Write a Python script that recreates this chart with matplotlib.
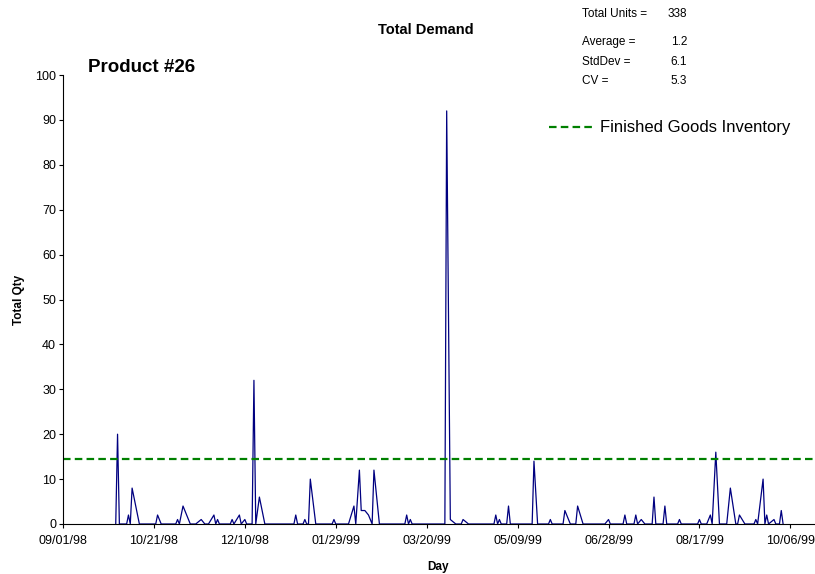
import numpy as np
import pandas as pd
import matplotlib
matplotlib.use('Agg')
import matplotlib.pyplot as plt
import matplotlib.dates as mdates

plt.rcParams['font.family'] = ['Liberation Sans', 'DejaVu Sans']

# demand vertices (date, qty)
dates = [
    '1998-09-30', '1998-10-01', '1998-10-02', '1998-10-06', '1998-10-07', '1998-10-08',
    '1998-10-09', '1998-10-13', '1998-10-22', '1998-10-23', '1998-10-25', '1998-11-02',
    '1998-11-03', '1998-11-04', '1998-11-06', '1998-11-10', '1998-11-13', '1998-11-16',
    '1998-11-18', '1998-11-20', '1998-11-23', '1998-11-24', '1998-11-25', '1998-11-26',
    '1998-12-02', '1998-12-03', '1998-12-04', '1998-12-07', '1998-12-08', '1998-12-10',
    '1998-12-11', '1998-12-14', '1998-12-15', '1998-12-16', '1998-12-18', '1998-12-21',
    '1999-01-06', '1999-01-07', '1999-01-08', '1999-01-11', '1999-01-12', '1999-01-13',
    '1999-01-14', '1999-01-15', '1999-01-18', '1999-01-27', '1999-01-28', '1999-01-29',
    '1999-02-05', '1999-02-08', '1999-02-09', '1999-02-11', '1999-02-12', '1999-02-14',
    '1999-02-16', '1999-02-18', '1999-02-19', '1999-02-22', '1999-03-08', '1999-03-09',
    '1999-03-10', '1999-03-11', '1999-03-12', '1999-03-30', '1999-03-31', '1999-04-02',
    '1999-04-05', '1999-04-08', '1999-04-09', '1999-04-12', '1999-04-26', '1999-04-27',
    '1999-04-28', '1999-04-29', '1999-04-30', '1999-05-03', '1999-05-04', '1999-05-05',
    '1999-05-17', '1999-05-18', '1999-05-20', '1999-05-26', '1999-05-27', '1999-05-28',
    '1999-06-03', '1999-06-04', '1999-06-07', '1999-06-10', '1999-06-11', '1999-06-14',
    '1999-06-26', '1999-06-28', '1999-06-29', '1999-07-06', '1999-07-07', '1999-07-08',
    '1999-07-12', '1999-07-13', '1999-07-14', '1999-07-16', '1999-07-18', '1999-07-22',
    '1999-07-23', '1999-07-24', '1999-07-28', '1999-07-29', '1999-07-30', '1999-08-05',
    '1999-08-06', '1999-08-07', '1999-08-16', '1999-08-17', '1999-08-18', '1999-08-21',
    '1999-08-23', '1999-08-24', '1999-08-26', '1999-08-28', '1999-09-01', '1999-09-03',
    '1999-09-06', '1999-09-07', '1999-09-08', '1999-09-11', '1999-09-16', '1999-09-17',
    '1999-09-18', '1999-09-21', '1999-09-22', '1999-09-23', '1999-09-24', '1999-09-27',
    '1999-09-28', '1999-09-30', '1999-10-01', '1999-10-02',
]
qty = [
    0, 20, 0, 0, 2, 0,
    8, 0, 0, 2, 0, 0,
    1, 0, 4, 0, 0, 1,
    0, 0, 2, 0, 1, 0,
    0, 1, 0, 2, 0, 1,
    0, 0, 32, 0, 6, 0,
    0, 2, 0, 0, 1, 0,
    0, 10, 0, 0, 1, 0,
    0, 4, 0, 12, 3, 3,
    2, 0, 12, 0, 0, 2,
    0, 1, 0, 0, 92, 1,
    0, 0, 1, 0, 0, 2,
    0, 1, 0, 0, 4, 0,
    0, 14, 0, 0, 1, 0,
    0, 3, 0, 0, 4, 0,
    0, 1, 0, 0, 2, 0,
    0, 2, 0, 1, 0, 0,
    6, 0, 0, 4, 0, 0,
    1, 0, 0, 1, 0, 0,
    2, 0, 16, 0, 0, 8,
    0, 0, 2, 0, 0, 1,
    0, 10, 0, 2, 0, 1,
    0, 0, 3, 0,
]
fgi_level = 14.5
tick_dates = pd.date_range('1998-09-01', periods=9, freq='50D')
x_end = '1999-10-19'

stat_names = ['Total Units =', 'Average =', 'StdDev =', 'CV =']
stat_values = ['338', '1.2', '6.1', '5.3']

fig = plt.figure(figsize=(8.15, 5.74), dpi=100)
ax = fig.add_axes([63 / 815, 1 - 524 / 574, (814 - 63) / 815, (524 - 75) / 574])

ax.plot(pd.to_datetime(dates), qty, color='#000080', lw=0.9)
ax.axhline(fgi_level, color='#008000', lw=1.6, dashes=(3.4, 1.9),
           label='Finished Goods Inventory')

ax.set_ylim(0, 100)
ax.set_yticks(np.arange(0, 101, 10))
ax.set_xlim(tick_dates[0], pd.Timestamp(x_end))
ax.set_xticks(tick_dates)
ax.xaxis.set_major_formatter(mdates.DateFormatter('%m/%d/%y'))

for s in ['top', 'right']:
    ax.spines[s].set_visible(False)
for s in ['left', 'bottom']:
    ax.spines[s].set_linewidth(0.8)
ax.tick_params(axis='both', direction='out', length=3, width=0.8, labelsize=9)
ax.tick_params(axis='x', pad=5)
ax.tick_params(axis='y', pad=2)

ax.set_xlabel('Day', fontsize=8.5, fontweight='bold', labelpad=10)
ax.set_ylabel('Total Qty', fontsize=8.5, fontweight='bold', labelpad=7)

fig.text(426 / 815, 1 - 30 / 574, 'Total Demand', fontsize=10.5, fontweight='bold',
         ha='center', va='center')
fig.text(88 / 815, 1 - 68 / 574, 'Product #26', fontsize=13.5, fontweight='bold',
         ha='left', va='center')

stat_y = [14, 42, 62, 81]
for name, val, yy in zip(stat_names, stat_values, stat_y):
    fig.text(582 / 815, 1 - yy / 574, name, fontsize=8.5, ha='left', va='center')
    fig.text(687 / 815, 1 - yy / 574, val, fontsize=8.5, ha='right', va='center')

ax.legend(loc='center left', bbox_to_anchor=(549 / 815, 1 - 128 / 574),
          bbox_transform=fig.transFigure, frameon=False, fontsize=12,
          handlelength=2.65, handletextpad=0.4, borderpad=0, borderaxespad=0)

fig.savefig('out.png', dpi=100)
